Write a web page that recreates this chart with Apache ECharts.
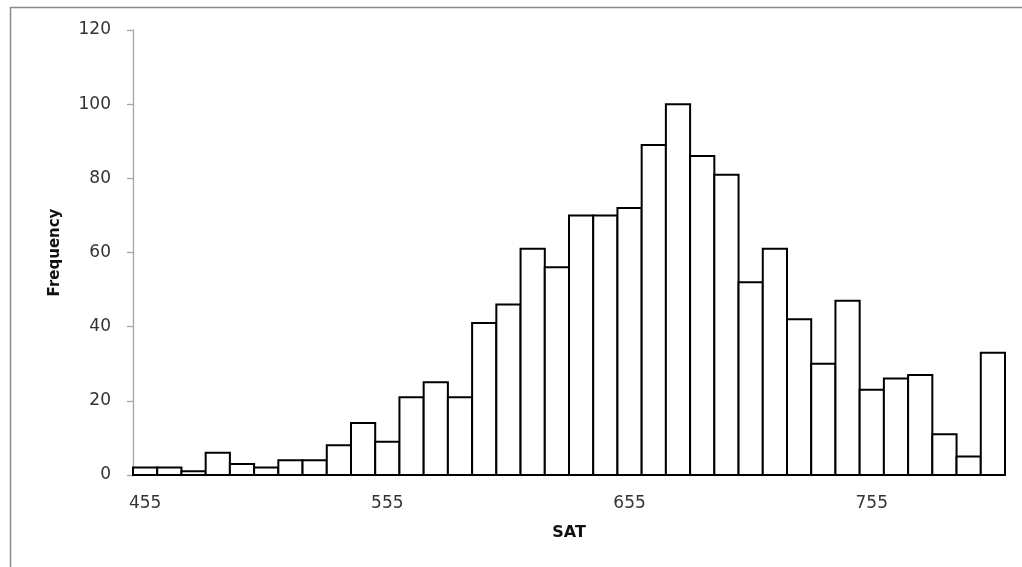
<!DOCTYPE html>
<html>
<head>
<meta charset="utf-8">
<script src="https://cdn.jsdelivr.net/npm/echarts@6/dist/echarts.min.js"></script>
<style>
html,body{margin:0;padding:0;background:#fff;}
#chart{width:1022px;height:567px;}
</style>
</head>
<body>
<div id="chart"></div>
<script>
const categories = ["455","465","475","485","495","505","515","525","535","545",
  "555","565","575","585","595","605","615","625","635","645",
  "655","665","675","685","695","705","715","725","735","745",
  "755","765","775","785","795","805"];
const frequency = [2,2,1,6,3,2,4,4,8,14,
  9,21,25,21,41,46,61,56,70,70,
  72,89,100,86,81,52,61,42,30,47,
  23,26,27,11,5,33];
const yTicks = {min:0, max:120, interval:20};
const xTitle = "SAT";
const yTitle = "Frequency";

const chart = echarts.init(document.getElementById('chart'), null, {renderer:'canvas'});
const font = "DejaVu Sans";
chart.setOption({
  animation:false,
  backgroundColor:'#fff',
  graphic:[{
    type:'rect', silent:true,
    shape:{x:10.5,y:7.5,width:1030,height:600},
    style:{fill:'none',stroke:'#8c8c8c',lineWidth:1.5}
  }],
  grid:{left:133,right:17,top:30,bottom:92,containLabel:false},
  xAxis:{
    type:'category',
    data:categories,
    name:xTitle,
    nameLocation:'middle',
    nameGap:50,
    nameTextStyle:{fontFamily:font,fontWeight:'bold',fontSize:16,color:'#111'},
    axisLine:{lineStyle:{color:'#000',width:2}},
    axisTick:{show:false},
    axisLabel:{interval:9,margin:20,fontFamily:font,fontSize:17,color:'#333'},
    splitLine:{show:false}
  },
  yAxis:{
    type:'value',
    min:yTicks.min,max:yTicks.max,interval:yTicks.interval,
    name:yTitle,
    nameLocation:'middle',
    nameGap:70,
    nameTextStyle:{fontFamily:font,fontWeight:'bold',fontSize:15,color:'#111'},
    axisLine:{show:true,lineStyle:{color:'#a6a6a6',width:1.3}},
    axisTick:{show:true,length:6,lineStyle:{color:'#a6a6a6',width:1.3}},
    axisLabel:{margin:22,fontFamily:font,fontSize:17,color:'#333'},
    splitLine:{show:false}
  },
  series:[{
    type:'custom',
    data:frequency.map((v,i)=>[i,v]),
    encode:{x:0,y:1},
    z:1,
    renderItem:function(params, api){
      const i = api.value(0), v = api.value(1);
      const base = api.coord([i,0]);
      const top = api.coord([i,v]);
      const w = api.size([1,0])[0];
      return {
        type:'rect',
        shape:{x:base[0]-w/2, y:top[1], width:w, height:base[1]-top[1]},
        style:{fill:'#fff', stroke:'#000', lineWidth:2}
      };
    }
  }]
});
</script>
</body>
</html>
